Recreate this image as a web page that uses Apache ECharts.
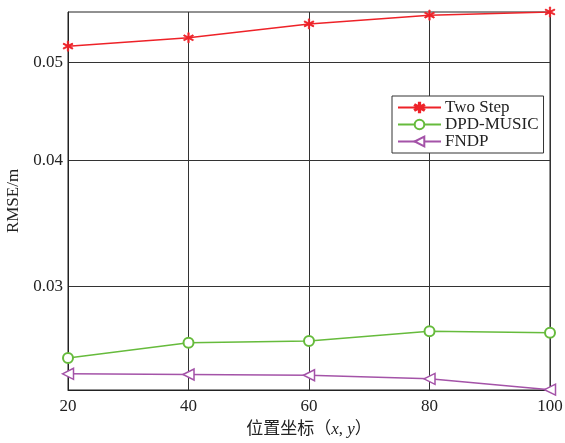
<!DOCTYPE html>
<html><head><meta charset="utf-8">
<script src="https://cdn.jsdelivr.net/npm/echarts@6/dist/echarts.min.js"></script>
<style>html,body{margin:0;padding:0;background:#fff}#c{width:565px;height:443px}</style>
</head><body><div id="c"></div>
<script>
const positions = [20, 40, 60, 80, 100];
const twoStep = [0.0519, 0.0529, 0.0546, 0.0557, 0.0561];
const dpdMusic = [0.0255, 0.0264, 0.0265, 0.0271, 0.0270];
const fndp = [0.02459, 0.02455, 0.02451, 0.02431, 0.02372];
const yTicks = [0.03, 0.04, 0.05];
const xTicks = [20, 40, 60, 80, 100];

const serif = '"Liberation Serif","Times New Roman","Noto Sans CJK SC",serif';
const asterisk = 'path://M5.6,0L4.4,0L4.4,10L5.6,10Z M9.03,8.02L9.63,6.98L0.97,1.98L0.37,3.02Z M0.37,6.98L0.97,8.02L9.63,3.02L9.03,1.98Z';
const triLeft = 'path://M0,5L10,0L10,10Z';
function pairs(v){ return positions.map((x,i)=>[x,v[i]]); }

const chart = echarts.init(document.getElementById('c'));
chart.setOption({
  animation: false,
  backgroundColor: '#fff',
  grid: {left: 68, right: 15, top: 12, bottom: 53, show: true, borderColor: '#222', borderWidth: 1,
    containLabel: false, outerBoundsMode: 'none'},
  legend: {
    orient: 'vertical', left: 392, top: 96, width: 152,
    backgroundColor: '#fff', borderColor: '#333', borderWidth: 1,
    padding: [3, 5, 3, 5], itemGap: 0, itemWidth: 43, itemHeight: 12,
    textStyle: {fontFamily: serif, fontSize: 17, color: '#222', lineHeight: 17, padding: [0, 0, 0, -1]},
    data: ['Two Step', 'DPD-MUSIC', 'FNDP']
  },
  xAxis: {
    type: 'value', min: 20, max: 100, interval: 20,
    axisLine: {show: true, lineStyle: {color: '#222'}},
    axisTick: {show: false},
    splitLine: {show: true, lineStyle: {color: '#333', width: 1}},
    axisLabel: {fontFamily: serif, fontSize: 17, color: '#222', margin: 8},
    name: '{a|位置坐标（}{i|x}{a|, }{i|y}{a|）}',
    nameLocation: 'middle', nameGap: 31,
    nameTextStyle: {rich: {
      a: {fontFamily: serif, fontSize: 17, color: '#222'},
      i: {fontFamily: serif, fontSize: 17, color: '#222', fontStyle: 'italic'}
    }}
  },
  yAxis: {
    type: 'log', logBase: 10, min: 0.0237, max: 0.0561,
    axisLine: {show: true, lineStyle: {color: '#222'}},
    axisTick: {show: false, customValues: yTicks},
    axisLabel: {customValues: yTicks, fontFamily: serif, fontSize: 17, color: '#222', margin: 5,
      formatter: v => (Math.round(v*100)/100).toString()},
    splitLine: {show: true, lineStyle: {color: '#333', width: 1}},
    minorSplitLine: {show: false},
    name: 'RMSE/m', nameLocation: 'middle', nameGap: 45,
    nameTextStyle: {fontFamily: serif, fontSize: 17, color: '#222'}
  },
  series: [
    {name: 'Two Step', type: 'line', data: pairs(twoStep), symbol: asterisk, symbolSize: 10,
      lineStyle: {color: '#ee2228', width: 1.5}, itemStyle: {color: '#ee2228', borderColor: '#ee2228', borderWidth: 0.8}},
    {name: 'DPD-MUSIC', type: 'line', data: pairs(dpdMusic), symbol: 'emptyCircle', symbolSize: 10,
      lineStyle: {color: '#66bb3c', width: 1.5}, itemStyle: {color: '#66bb3c', borderWidth: 1.5}},
    {name: 'FNDP', type: 'line', data: pairs(fndp), symbol: triLeft, symbolSize: 11,
      lineStyle: {color: '#a453a8', width: 1.5}, itemStyle: {color: '#fff', borderColor: '#a453a8', borderWidth: 1.5}}
  ]
});
</script></body></html>
